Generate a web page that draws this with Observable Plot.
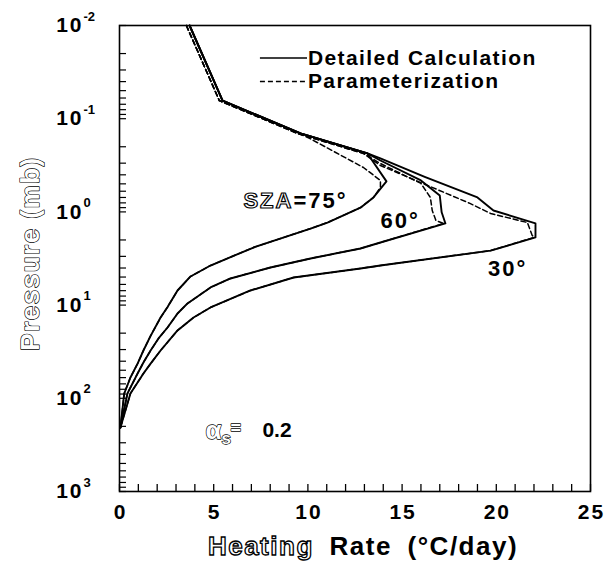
<!DOCTYPE html>
<html><head><meta charset="utf-8">
<script src="https://cdn.jsdelivr.net/npm/d3@7"></script>
<script src="https://cdn.jsdelivr.net/npm/@observablehq/plot@0.6"></script>
<style>
body{margin:0;background:#fff;}
#chart svg{display:block;font-family:"Liberation Sans",Arial,sans-serif;}
</style></head><body><div id="chart"></div>
<script>
// ---- axis ticks ----
const xTickValues = [0, 5, 10, 15, 20, 25];
const xTickLabels = ["0", "5", "10", "15", "20", "25"];
const yDecades = [0.01, 0.1, 1, 10, 100, 1000];
const yExponents = ["-2", "-1", "0", "1", "2", "3"];
const xTitle = "Heating Rate (°C/day)";
const yTitle = "Pressure (mb)";

// ---- SZA = 75° ----
const sza75DetPres = [0.01, 0.064, 0.144, 0.236, 0.47, 0.70, 0.90, 1.30, 1.51, 2.41, 3.76, 4.93, 6.97, 10.5, 13.6, 21.4, 30.7, 42.5, 59.8, 88.8, 206];
const sza75DetRate = [3.72, 5.47, 9.61, 13.16, 14.17, 13.48, 12.79, 11.04, 10.14, 7.11, 4.83, 3.77, 3.08, 2.55, 2.18, 1.65, 1.27, 0.96, 0.58, 0.25, 0.05];
const sza75ParPres = [0.01, 0.064, 0.159, 0.334, 0.46, 0.547, 0.70, 0.90, 1.30, 1.51, 2.41, 3.76, 4.93, 6.97, 10.5, 13.6, 21.4, 30.7, 42.5, 59.8, 88.8, 206];
const sza75ParRate = [3.55, 5.30, 10.0, 12.95, 13.85, 13.85, 13.48, 12.79, 11.04, 10.14, 7.11, 4.83, 3.77, 3.08, 2.55, 2.18, 1.65, 1.27, 0.96, 0.58, 0.25, 0.05];

// ---- SZA = 60° ----
const sza60DetPres = [0.01, 0.064, 0.144, 0.236, 0.281, 0.46, 0.667, 1.01, 1.33, 2.13, 2.47, 3.16, 3.95, 5.18, 6.47, 9.6, 12.3, 17.4, 22.8, 30.7, 41.3, 54.2, 88.8, 206];
const sza60DetRate = [3.72, 5.47, 9.61, 13.16, 13.85, 16.0, 17.0, 17.1, 17.3, 13.85, 12.79, 10.14, 8.01, 5.89, 4.83, 3.61, 3.08, 2.55, 2.07, 1.65, 1.27, 0.96, 0.42, 0.05];
const sza60ParPres = [0.01, 0.064, 0.144, 0.236, 0.303, 0.495, 0.70, 0.966, 1.24, 1.33, 2.13, 2.47, 3.16, 3.95, 5.18, 6.47, 9.6, 12.3, 17.4, 22.8, 30.7, 41.3, 54.2, 88.8, 206];
const sza60ParRate = [3.55, 5.30, 9.45, 12.95, 13.85, 16.0, 16.5, 16.6, 16.8, 17.2, 13.85, 12.79, 10.14, 8.01, 5.89, 4.83, 3.61, 3.08, 2.55, 2.07, 1.65, 1.27, 0.96, 0.42, 0.05];

// ---- SZA = 30° ----
const sza30DetPres = [0.01, 0.064, 0.144, 0.236, 0.267, 0.42, 0.70, 0.966, 1.33, 1.88, 2.6, 3.76, 4.05, 5.06, 6.97, 10.6, 13.6, 18.7, 30.7, 42.5, 54.2, 88.8, 206];
const sza30DetRate = [3.72, 5.47, 9.61, 13.16, 13.85, 16.2, 19.0, 19.85, 22.08, 22.08, 19.7, 13.85, 12.79, 9.24, 6.95, 4.83, 3.93, 3.08, 2.18, 1.65, 1.27, 0.58, 0.05];
const sza30ParPres = [0.01, 0.064, 0.144, 0.236, 0.318, 0.81, 1.04, 1.30, 1.78, 1.88, 2.6, 3.76, 4.05, 5.06, 6.97, 10.6, 13.6, 18.7, 30.7, 42.5, 54.2, 88.8, 206];
const sza30ParRate = [3.55, 5.30, 9.45, 12.95, 13.85, 18.6, 19.7, 21.65, 21.9, 22.0, 19.7, 13.85, 12.79, 9.24, 6.95, 4.83, 3.93, 3.08, 2.18, 1.65, 1.27, 0.58, 0.05];

// ---- legend & annotations ----
const legendLabels = ["Detailed Calculation", "Parameterization"];
const legendPres = [0.0223, 0.0399];
const legendLineX1 = 7.48, legendLineX2 = 9.98, legendTextX = 10.0;
const annotText = ["SZA=75°", "60°", "30°"];
const annotRate = [9.34, 14.9, 20.6];
const annotPres = [0.755, 1.24, 4.05];
const albedoRate = 4.56, albedoPres = 221;

function rows(rate, pres, sza) { return rate.map((r, i) => ({rate: r, pres: pres[i], sza})); }
const detailed = [...rows(sza75DetRate, sza75DetPres, 75), ...rows(sza60DetRate, sza60DetPres, 60), ...rows(sza30DetRate, sza30DetPres, 30)];
const param = [...rows(sza75ParRate, sza75ParPres, 75), ...rows(sza60ParRate, sza60ParPres, 60), ...rows(sza30ParRate, sza30ParPres, 30)];

const W = 604, H = 569, mL = 119, mR = 14, mT = 25, mB = 78;
const frameW = W - mL - mR, frameH = H - mT - mB;

const xMinor = d3.range(0, 26, 1);
const yMinor = [];
for (const d of yDecades.slice(0, -1)) for (let k = 1; k < 10; k++) yMinor.push(d * k);
yMinor.push(1000);

const hollow = {fill: "#fff", stroke: "#000", strokeWidth: 1.3};

const plot = Plot.plot({
  width: W, height: H,
  marginLeft: mL, marginRight: mR, marginTop: mT, marginBottom: mB,
  style: {fontFamily: '"Liberation Sans", Arial, sans-serif', background: "#fff", color: "#000"},
  x: {domain: [0, 25], axis: null},
  y: {type: "log", domain: [0.01, 1000], reverse: true, axis: null},
  marks: [
    Plot.tickX(xMinor, {x: d => d, insetTop: frameH - 7, stroke: "#000", strokeWidth: 1.3}),
    Plot.tickY(yMinor, {y: d => d, insetRight: frameW - 7, stroke: "#000", strokeWidth: 1.2}),
    Plot.frame({stroke: "#000", strokeWidth: 1.6}),
    Plot.line(param, {x: "rate", y: "pres", z: "sza", stroke: "#000", strokeWidth: 1.5, strokeDasharray: "5,3"}),
    Plot.line(detailed, {x: "rate", y: "pres", z: "sza", stroke: "#000", strokeWidth: 1.9}),
    // x tick labels
    Plot.text(xTickValues, {x: d => d, frameAnchor: "bottom", textAnchor: "middle", lineAnchor: "top", dx: 1, dy: 13, text: (d, i) => xTickLabels[i], fontSize: 21, fontWeight: "bold", fill: "#000"}),
    // y tick labels 10^k
    Plot.text(yDecades, {y: d => d, frameAnchor: "left", textAnchor: "end", lineAnchor: "middle", dx: -36, text: () => "10", fontSize: 21, fontWeight: "bold", fill: "#000"}),
    Plot.text(yDecades, {y: d => d, frameAnchor: "left", textAnchor: "start", lineAnchor: "middle", dx: -36, dy: -9, text: (d, i) => yExponents[i], fontSize: 13, fontWeight: "bold", fill: "#000"}),
    // axis titles
    Plot.text([xTitle], {frameAnchor: "bottom", textAnchor: "middle", lineAnchor: "middle", dx: 8, dy: 55, fontSize: 26, fontWeight: "bold", fill: "#000"}),
    Plot.text([yTitle], {frameAnchor: "left", textAnchor: "middle", lineAnchor: "middle", dx: -89, dy: -5, rotate: -90, fontSize: 26, fontWeight: "bold", ...hollow}),
    // legend
    Plot.ruleY([legendPres[0]], {y: d => d, x1: legendLineX1, x2: legendLineX2, stroke: "#000", strokeWidth: 1.6}),
    Plot.ruleY([legendPres[1]], {y: d => d, x1: legendLineX1, x2: legendLineX2, stroke: "#000", strokeWidth: 1.6, strokeDasharray: "5,3"}),
    Plot.text(legendLabels, {x: legendTextX, y: (d, i) => legendPres[i], textAnchor: "start", lineAnchor: "middle", fontSize: 21, fontWeight: "bold", fill: "#000"}),
    // annotations
    Plot.text(annotText, {x: (d, i) => annotRate[i], y: (d, i) => annotPres[i], textAnchor: "middle", lineAnchor: "middle", fontSize: 22, fontWeight: "bold", fill: "#000"}),
    Plot.text(["α"], {x: albedoRate, y: albedoPres, textAnchor: "start", lineAnchor: "middle", fontSize: 26, fontWeight: "bold", ...hollow}),
    Plot.text(["s"], {x: albedoRate, y: albedoPres, dx: 16, dy: 8, textAnchor: "start", lineAnchor: "middle", fontSize: 17, fontWeight: "bold", ...hollow}),
    Plot.text(["="], {x: albedoRate, y: albedoPres, dx: 25, dy: -2, textAnchor: "start", lineAnchor: "middle", fontSize: 18, fontWeight: "bold", ...hollow}),
    Plot.text(["0.2"], {x: albedoRate, y: albedoPres, dx: 57, textAnchor: "start", lineAnchor: "middle", fontSize: 21, fontWeight: "bold", fill: "#000"})
  ]
});
document.getElementById("chart").appendChild(plot);

// text spacing and hollow parts, as in the scanned original (matched by content)
d3.select(plot).selectAll("text").each(function() {
  const t = d3.select(this);
  const s = this.textContent;
  if (legendLabels.includes(s)) this.style.letterSpacing = "1.4px";
  else if (s === yTitle) this.style.letterSpacing = "1.5px";
  else if (annotText.includes(s)) {
    this.style.letterSpacing = "2px";
    if (s.startsWith("SZA")) {
      t.text(null);
      t.append("tspan").attr("fill", "#fff").attr("stroke", "#000").attr("stroke-width", 1.2).text("SZA");
      t.append("tspan").text(s.slice(3));
    }
  } else if (s === xTitle) {
    this.style.letterSpacing = "1.5px";
    this.style.wordSpacing = "7px";
    t.text(null);
    t.append("tspan").attr("fill", "#fff").attr("stroke", "#000").attr("stroke-width", 1.3).text("Heating");
    t.append("tspan").text(s.slice("Heating".length));
  } else if (xTickLabels.includes(s) || s === "10") this.style.letterSpacing = "2px";
});
</script></body></html>
